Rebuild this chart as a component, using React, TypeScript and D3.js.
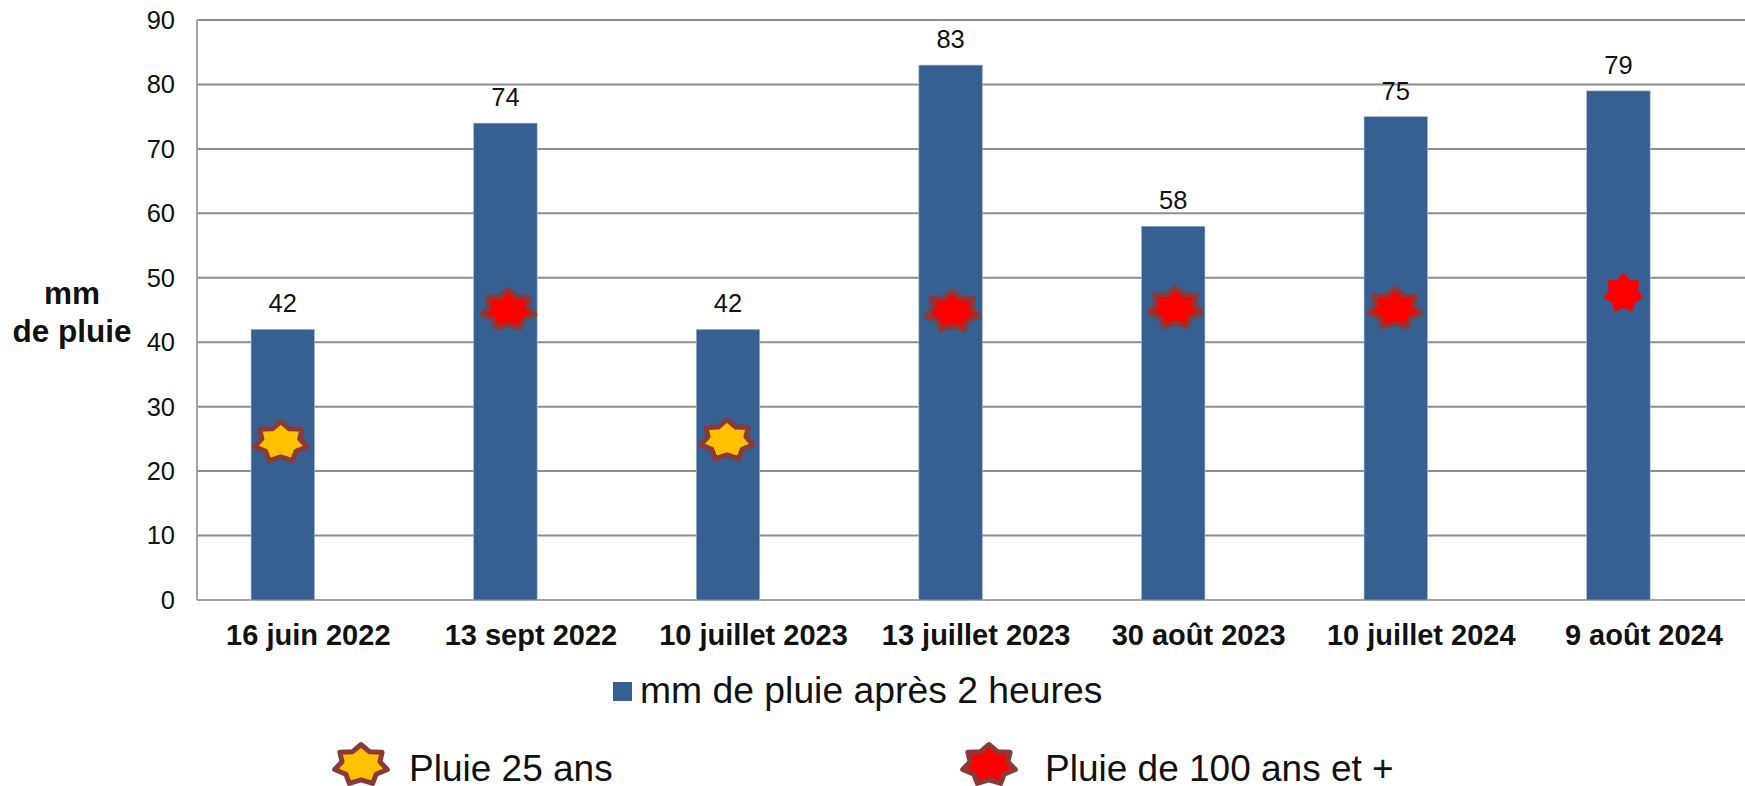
import React from "react";
import * as d3 from "d3";

const categories = ["16 juin 2022", "13 sept 2022", "10 juillet 2023", "13 juillet 2023", "30 août 2023", "10 juillet 2024", "9 août 2024"];
const rainMm = [42, 74, 42, 83, 58, 75, 79];
const markerValues = [24.5, 45, 24.8, 44.8, 45.3, 45.2, 47.6];
const markerKinds = ["p25", "p100", "p25", "p100", "p100", "p100", "p100plain"];
const markerShift = [-2, 3, -1, 2, 2, -1, 5];
const yTicks = [0, 10, 20, 30, 40, 50, 60, 70, 80, 90];

const FONT = "'Liberation Sans', Arial, sans-serif";
const W = 1745, H = 786;
const left = 197, top = 20, bottom = 600;

function starPath(rx: number, ry: number) {
  const pts: [number, number][] = [];
  for (let i = 0; i < 14; i++) {
    const a = (i * Math.PI) / 7;
    const k = i % 2 === 0 ? 1 : 0.72;
    pts.push([Math.sin(a) * rx * k, -Math.cos(a) * ry * k]);
  }
  return d3.line()(pts) + "Z";
}

const kindStyle: Record<string, { fill: string; stroke: string }> = {
  p25: { fill: "#FFC000", stroke: "#8B3A3A" },
  p100: { fill: "#FF0000", stroke: "#8B3A3A" },
  p100plain: { fill: "#FF0000", stroke: "#FF0000" },
};

function Star({ x, y, kind }: { x: number; y: number; kind: string }) {
  const s = kindStyle[kind];
  const plain = kind === "p100plain";
  return (
    <path
      d={plain ? starPath(19, 19) : starPath(27, 20.5)}
      transform={`translate(${x},${y})`}
      fill={s.fill}
      stroke={s.stroke}
      strokeWidth={plain ? 2 : 5}
      strokeLinejoin="round"
    />
  );
}

export default function App() {
  const x = d3.scaleBand<string>().domain(categories).range([left, left + 222.6 * 7]).paddingInner(0);
  const y = d3.scaleLinear().domain([0, 90]).range([bottom, top]);
  const barW = 63.5;
  const barOffset = x.bandwidth() / 2 - 25.5;

  return (
    <svg width={W} height={H} style={{ position: "absolute", left: 0, top: 0, display: "block", background: "#fff" }} fontFamily={FONT}>
      {yTicks.map((t) => (
        <g key={t}>
          <line x1={left} x2={W} y1={y(t)} y2={y(t)} stroke={t === 0 ? "#a3a3a3" : "#8e8e8e"} strokeWidth={2} />
          <text x={left - 22} y={y(t)} dy="0.35em" textAnchor="end" fontSize={25.5} fill="#111">{t}</text>
        </g>
      ))}
      <line x1={left} x2={left} y1={top} y2={bottom} stroke="#a3a3a3" strokeWidth={2} />

      {categories.map((c, i) => {
        const bx = (x(c) as number) + barOffset - barW / 2;
        return (
          <g key={c}>
            <rect x={bx} y={y(rainMm[i])} width={barW} height={bottom - y(rainMm[i])} fill="#376092" stroke="#a9bcd2" strokeWidth={0.6} />
            <text x={bx + barW / 2} y={y(rainMm[i]) - 17} textAnchor="middle" fontSize={25.5} fill="#111">{rainMm[i]}</text>
            <text x={(x(c) as number) + x.bandwidth() / 2} y={645} textAnchor="middle" fontSize={29} fontWeight="bold" fill="#111">{c}</text>
          </g>
        );
      })}
      {categories.map((c, i) => (
        <Star key={c} x={(x(c) as number) + barOffset + markerShift[i]} y={y(markerValues[i])} kind={markerKinds[i]} />
      ))}

      <text x={72} y={304} textAnchor="middle" fontSize={31.5} fontWeight="bold" fill="#111">mm</text>
      <text x={72} y={342} textAnchor="middle" fontSize={31.5} fontWeight="bold" fill="#111">de pluie</text>

      <rect x={613} y={682} width={19} height={19} fill="#376092" />
      <text x={640} y={703} fontSize={37.3} fill="#111">mm de pluie après 2 heures</text>

      <Star x={361} y={765} kind="p25" />
      <text x={409} y={781} fontSize={37} fill="#111">Pluie 25 ans</text>
      <Star x={989} y={765} kind="p100" />
      <text x={1045} y={781} fontSize={37} fill="#111">Pluie de 100 ans et +</text>
    </svg>
  );
}
